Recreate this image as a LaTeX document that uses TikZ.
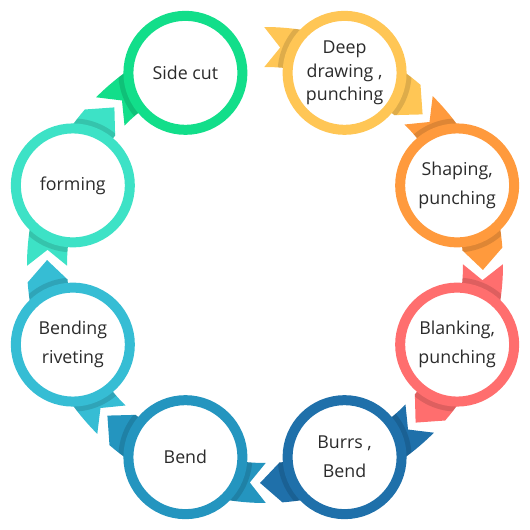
\documentclass[tikz,border=0pt]{standalone}
\usepackage{fontspec}
\setmainfont{Open Sans}
\usetikzlibrary{calc}

\definecolor{cutgreen}{HTML}{12DE8A}
\definecolor{deepyellow}{HTML}{FFC655}
\definecolor{shapeorange}{HTML}{FF9A3D}
\definecolor{blankred}{HTML}{FF6E6E}
\definecolor{burrblue}{HTML}{1F70AA}
\definecolor{bendblue}{HTML}{2495BF}
\definecolor{rivetblue}{HTML}{36BDD4}
\definecolor{formteal}{HTML}{3DE2C6}
\definecolor{textgray}{HTML}{2B2B2B}

\begin{document}
\begin{tikzpicture}[x=1pt,y=1pt,font=\fontsize{17.8}{29}\selectfont]
\tikzset{
% ring nodes: white disc with a thick coloured rim
ring node/.style={circle,draw=#1,line width=10pt,fill=white,minimum size=114pt,
  inner sep=0pt,align=center,text=textgray},
tight/.style={font=\fontsize{17.8}{23.5}\selectfont}
}
\useasboundingbox (-265,-265) rectangle (265,265);

% The arrow bands along the big ring (clockwise), \h=0: no head
\foreach \a/\c/\h in {112.5/cutgreen/0,67.5/deepyellow/1,22.5/shapeorange/1,-22.5/blankred/1,
  -67.5/burrblue/1,-112.5/bendblue/1,-157.5/rivetblue/1,157.5/formteal/1}{
\def\band{(\a+22.7:238) -- (\a+18.5:218) -- (\a+22.7:198)
  arc[start angle=\a+22.7,end angle=\a-18.3*\h,radius=198] -- (\a-23.8*\h:218) -- (\a-18.3*\h:238)
  arc[start angle=\a-18.3*\h,end angle=\a+22.7,radius=238] -- cycle}
\fill[\c] \band;
% shadow of the disc on its band
\begin{scope}
\clip \band;
\fill[black,opacity=.13] (\a:208) circle[radius=67];
\end{scope}
}

% The steps
\node[ring node=cutgreen] (sidecut) at (112.5:208) {Side cut};
\node[ring node=deepyellow,tight] (deep) at (67.5:208) {Deep\\drawing ,\\punching};
\node[ring node=shapeorange] (shaping) at (22.5:208) {Shaping,\\punching};
\node[ring node=blankred] (blanking) at (-22.5:208) {Blanking,\\punching};
\node[ring node=burrblue] (burrs) at (-67.5:208) {Burrs ,\\Bend};
\node[ring node=bendblue] (bend) at (-112.5:208) {Bend};
\node[ring node=rivetblue] (riveting) at (-157.5:208) {Bending\\riveting};
\node[ring node=formteal] (forming) at (157.5:208) {forming};
\end{tikzpicture}
\end{document}
